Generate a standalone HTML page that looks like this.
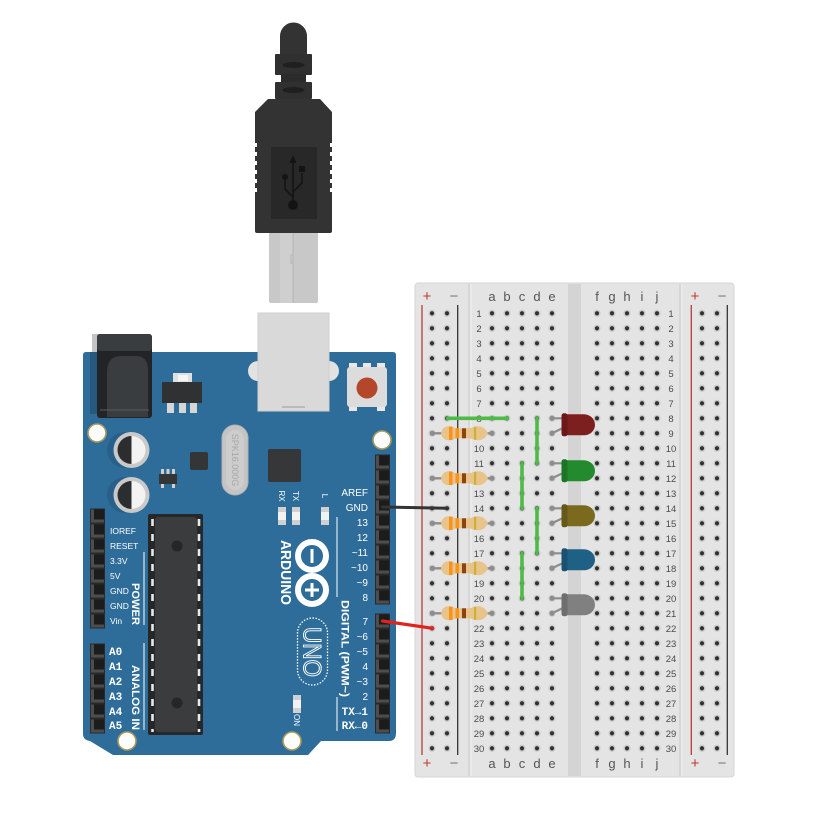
<!DOCTYPE html>
<html><head><meta charset="utf-8"><style>
html,body{margin:0;padding:0;background:#fff;}
svg{display:block}
text{font-family:"Liberation Sans",sans-serif}
</style></head><body>
<svg width="818" height="838" viewBox="0 0 818 838" xmlns="http://www.w3.org/2000/svg">
<defs>
 <pattern id="holes" x="484.5" y="305.8" width="15" height="15" patternUnits="userSpaceOnUse">
  <circle cx="7.5" cy="7.5" r="3.5" fill="#c9c9c9"/>
  <circle cx="7.5" cy="7.5" r="2.1" fill="#303030"/>
 </pattern>
 <g id="pin"><rect x="-6.5" y="-6.5" width="13" height="13" fill="#4d4d4d"/><rect x="-3.5" y="-6.5" width="10" height="10" fill="#1c1c1c"/></g>
 <g id="res">
  <line x1="432.5" y1="0" x2="492" y2="0" stroke="#8d8d8d" stroke-width="2.4" stroke-linecap="round"/>
  <circle cx="432.5" cy="0" r="2.6" fill="#8d8d8d"/>
  <circle cx="492" cy="0" r="2.6" fill="#8d8d8d"/>
  <path d="M441,0 C442,-5 445,-7 449,-7 C453,-7 454,-5 457,-5 L469,-5 C472,-5 473,-7 478,-7 C483,-7 486,-4 488,0 C486,4 483,7 478,7 C473,7 472,5 469,5 L457,5 C454,5 453,7 449,7 C445,7 442,5 441,0 Z" fill="#e8c38a"/>
  <rect x="449" y="-6.8" width="3.5" height="13.6" fill="#f7921c"/>
  <rect x="455.5" y="-5" width="3.5" height="10" fill="#f7921c"/>
  <rect x="462" y="-5" width="4" height="10" fill="#8a4410"/>
  <rect x="474" y="-6.5" width="2.2" height="13" fill="#c9b23a"/>
 </g>
</defs>

<!-- ================= BREADBOARD ================= -->
<rect x="415" y="283" width="319" height="494" rx="3" fill="#e4e4e4" stroke="#d6d6d6" stroke-width="1"/>
<rect x="568" y="284" width="13" height="492" fill="#d4d4d4"/>
<line x1="469" y1="284" x2="469" y2="776" stroke="#d2d2d2" stroke-width="1.5"/>
<line x1="680" y1="284" x2="680" y2="776" stroke="#d2d2d2" stroke-width="1.5"/>
<line x1="471" y1="284" x2="471" y2="776" stroke="#efefef" stroke-width="1"/>
<line x1="682" y1="284" x2="682" y2="776" stroke="#efefef" stroke-width="1"/>

<!-- rail lines -->
<line x1="422" y1="305" x2="422" y2="755" stroke="#b83a3a" stroke-width="1.3"/>
<line x1="457.7" y1="305" x2="457.7" y2="755" stroke="#333" stroke-width="1.3"/>
<line x1="691.3" y1="305" x2="691.3" y2="755" stroke="#b83a3a" stroke-width="1.3"/>
<line x1="727.3" y1="305" x2="727.3" y2="755" stroke="#333" stroke-width="1.3"/>

<!-- holes -->
<rect x="424.5" y="305.8" width="30" height="450" fill="url(#holes)"/>
<rect x="484.5" y="305.8" width="75" height="450" fill="url(#holes)"/>
<rect x="589.5" y="305.8" width="75" height="450" fill="url(#holes)"/>
<rect x="694.5" y="305.8" width="30" height="450" fill="url(#holes)"/>

<!-- rail signs -->
<g font-size="15" text-anchor="middle">
 <text x="427" y="301" fill="#c0392b">+</text>
 <text x="454" y="301" fill="#777">−</text>
 <text x="695" y="301" fill="#c0392b">+</text>
 <text x="722" y="301" fill="#777">−</text>
 <text x="427" y="768" fill="#c0392b">+</text>
 <text x="454" y="768" fill="#777">−</text>
 <text x="695" y="768" fill="#c0392b">+</text>
 <text x="722" y="768" fill="#777">−</text>
</g>
<!-- column letters -->
<g font-size="13" fill="#555" text-anchor="middle">
 <text x="492" y="301">a</text><text x="507" y="301">b</text><text x="522" y="301">c</text><text x="537" y="301">d</text><text x="552" y="301">e</text>
 <text x="597" y="301">f</text><text x="612" y="301">g</text><text x="627" y="301">h</text><text x="642" y="301">i</text><text x="657" y="301">j</text>
 <text x="492" y="768">a</text><text x="507" y="768">b</text><text x="522" y="768">c</text><text x="537" y="768">d</text><text x="552" y="768">e</text>
 <text x="597" y="768">f</text><text x="612" y="768">g</text><text x="627" y="768">h</text><text x="642" y="768">i</text><text x="657" y="768">j</text>
</g>
<!-- row numbers -->
<g font-size="9.5" fill="#4a4a4a" text-anchor="middle">
<text x="479" y="316.8">1</text><text x="671" y="316.8">1</text>
<text x="479" y="331.8">2</text><text x="671" y="331.8">2</text>
<text x="479" y="346.8">3</text><text x="671" y="346.8">3</text>
<text x="479" y="361.8">4</text><text x="671" y="361.8">4</text>
<text x="479" y="376.8">5</text><text x="671" y="376.8">5</text>
<text x="479" y="391.8">6</text><text x="671" y="391.8">6</text>
<text x="479" y="406.8">7</text><text x="671" y="406.8">7</text>
<text x="479" y="421.8">8</text><text x="671" y="421.8">8</text>
<text x="479" y="436.8">9</text><text x="671" y="436.8">9</text>
<text x="479" y="451.8">10</text><text x="671" y="451.8">10</text>
<text x="479" y="466.8">11</text><text x="671" y="466.8">11</text>
<text x="479" y="481.8">12</text><text x="671" y="481.8">12</text>
<text x="479" y="496.8">13</text><text x="671" y="496.8">13</text>
<text x="479" y="511.8">14</text><text x="671" y="511.8">14</text>
<text x="479" y="526.8">15</text><text x="671" y="526.8">15</text>
<text x="479" y="541.8">16</text><text x="671" y="541.8">16</text>
<text x="479" y="556.8">17</text><text x="671" y="556.8">17</text>
<text x="479" y="571.8">18</text><text x="671" y="571.8">18</text>
<text x="479" y="586.8">19</text><text x="671" y="586.8">19</text>
<text x="479" y="601.8">20</text><text x="671" y="601.8">20</text>
<text x="479" y="616.8">21</text><text x="671" y="616.8">21</text>
<text x="479" y="631.8">22</text><text x="671" y="631.8">22</text>
<text x="479" y="646.8">23</text><text x="671" y="646.8">23</text>
<text x="479" y="661.8">24</text><text x="671" y="661.8">24</text>
<text x="479" y="676.8">25</text><text x="671" y="676.8">25</text>
<text x="479" y="691.8">26</text><text x="671" y="691.8">26</text>
<text x="479" y="706.8">27</text><text x="671" y="706.8">27</text>
<text x="479" y="721.8">28</text><text x="671" y="721.8">28</text>
<text x="479" y="736.8">29</text><text x="671" y="736.8">29</text>
<text x="479" y="751.8">30</text><text x="671" y="751.8">30</text>
</g>

<!-- ================= ARDUINO ================= -->
<!-- jack shadow grey -->
<rect x="92" y="334" width="8" height="20" fill="#c4c4c4"/>
<path d="M86,352 H393 Q396,352 396,355 V733 Q396,741 389,741 H321 L308,755 H113 L90,741 Q83,740 83,734 V355 Q83,352 86,352 Z" fill="#2e6c9a"/>
<rect x="90" y="352" width="10" height="62" fill="#27587e"/>
<!-- power jack -->
<rect x="97" y="334" width="55" height="84" rx="3" fill="#232425"/>
<rect x="97" y="334" width="55" height="17" rx="3" fill="#3a3d40"/>
<path d="M107,372 Q107,356 122,356 H136 Q148,356 148,370 V417 H107 Z" fill="#3a3d40"/>
<line x1="100" y1="410" x2="149" y2="410" stroke="#5a5d60" stroke-width="1"/>

<!-- regulator -->
<rect x="173" y="373" width="19" height="10" fill="#e0e0e0"/>
<rect x="178" y="375" width="10" height="6" fill="#f5f5f5"/>
<rect x="162" y="382" width="40" height="21" fill="#2f3133"/>
<rect x="167" y="403" width="7" height="10" fill="#d6d6d6"/>
<rect x="179" y="403" width="7" height="10" fill="#d6d6d6"/>
<rect x="190" y="403" width="7" height="10" fill="#d6d6d6"/>

<!-- USB port on board -->
<circle cx="258" cy="371" r="10" fill="#e2e2e2"/>
<circle cx="329" cy="371" r="10" fill="#e2e2e2"/>
<rect x="258" y="313" width="71" height="98" fill="#d9d9d9"/>
<rect x="258" y="313" width="71" height="98" fill="none" stroke="#cfcfcf" stroke-width="1"/>
<line x1="282" y1="407" x2="305" y2="407" stroke="#a9a9a9" stroke-width="1.2"/>

<!-- reset button -->
<rect x="349" y="363" width="8" height="6" fill="#e8e8e8"/><rect x="363" y="363" width="8" height="6" fill="#e8e8e8"/><rect x="377" y="363" width="8" height="6" fill="#e8e8e8"/>
<rect x="349" y="405" width="8" height="6" fill="#e8e8e8"/><rect x="377" y="405" width="8" height="6" fill="#e8e8e8"/>
<rect x="347" y="367" width="40" height="40" rx="3" fill="#dcdcdc"/>
<circle cx="367" cy="388" r="10.5" fill="#b4462b"/>

<!-- mounting holes -->
<g fill="#fdfdfd" stroke="#a99a5c" stroke-width="1.6">
 <circle cx="97" cy="433" r="9"/>
 <circle cx="382" cy="440" r="9"/>
 <circle cx="127" cy="741" r="9"/>
 <circle cx="292" cy="741" r="9"/>
</g>

<!-- capacitors -->
<circle cx="125" cy="450" r="18" fill="#28608a"/>
<circle cx="125" cy="495" r="18" fill="#28608a"/>
<circle cx="131.5" cy="450" r="18" fill="#c9c9c9"/>
<circle cx="131.5" cy="495" r="18" fill="#c9c9c9"/>
<path d="M131.5,436 A14,14 0 0 0 131.5,464 Z" fill="#2c2d2e"/>
<path d="M131.5,436 A14,14 0 0 1 131.5,464 Z" fill="#f3f3f3"/>
<path d="M131.5,481 A14,14 0 0 0 131.5,509 Z" fill="#2c2d2e"/>
<path d="M131.5,481 A14,14 0 0 1 131.5,509 Z" fill="#f3f3f3"/>

<!-- small chips -->
<rect x="190" y="452" width="18" height="18" rx="2" fill="#333537"/>
<rect x="161" y="469" width="3" height="5" fill="#cfcfcf"/><rect x="166.5" y="469" width="3" height="5" fill="#cfcfcf"/><rect x="172" y="469" width="3" height="5" fill="#cfcfcf"/>
<rect x="159" y="474" width="18" height="10" fill="#333537"/>
<rect x="161" y="484" width="3" height="4" fill="#cfcfcf"/><rect x="172" y="484" width="3" height="4" fill="#cfcfcf"/>
<rect x="268" y="449" width="33" height="33" rx="2" fill="#353739"/>

<!-- crystal -->
<rect x="222" y="425" width="26" height="70" rx="13" fill="#c4c4c4" stroke="#b2b2b2" stroke-width="1"/>
<rect x="226" y="430" width="18" height="60" rx="9" fill="#cdcdcd"/>
<text transform="translate(235,460) rotate(90)" font-size="9" fill="#a7a7a7" text-anchor="middle" dy="3">SPK16.000G</text>

<!-- RX TX L -->
<g font-size="8" fill="#fff" text-anchor="middle">
 <text transform="translate(282,496) rotate(90)" dy="3">RX</text>
 <text transform="translate(296,496) rotate(90)" dy="3">TX</text>
 <text transform="translate(325,496) rotate(90)" dy="3">L</text>
</g>
<g>
 <rect x="278" y="507" width="8" height="18" fill="#d0d0d0"/><rect x="278" y="512" width="8" height="8" fill="#f2f2f2"/>
 <rect x="292" y="507" width="8" height="18" fill="#d0d0d0"/><rect x="292" y="512" width="8" height="8" fill="#f2f2f2"/>
 <rect x="321" y="507" width="8" height="18" fill="#d0d0d0"/><rect x="321" y="512" width="8" height="8" fill="#f2f2f2"/>
</g>

<!-- ATmega -->
<rect x="148" y="514" width="55" height="221" rx="2" fill="#262728"/>
<rect x="155" y="517" width="42" height="215" rx="3" fill="#3a3c3e"/>
<line x1="152.5" y1="519" x2="152.5" y2="732" stroke="#e9e9e9" stroke-width="2.6" stroke-dasharray="7 8"/>
<line x1="199" y1="519" x2="199" y2="732" stroke="#e9e9e9" stroke-width="2.6" stroke-dasharray="7 8"/>
<circle cx="177" cy="546" r="5.5" fill="#252627"/>
<circle cx="177" cy="703" r="5.5" fill="#252627"/>

<!-- logo -->
<text transform="translate(286,572.5) rotate(90)" font-size="15" font-weight="bold" fill="#fff" text-anchor="middle" dy="5" textLength="65" lengthAdjust="spacingAndGlyphs">ARDUINO</text>
<circle cx="312" cy="556" r="14" fill="none" stroke="#fff" stroke-width="6"/>
<circle cx="312" cy="590" r="14" fill="none" stroke="#fff" stroke-width="6"/>
<rect x="310.5" y="549" width="3" height="14" fill="#fff"/>
<rect x="310.5" y="583" width="3" height="14" fill="#fff"/>
<rect x="305" y="588.5" width="14" height="3" fill="#fff"/>
<rect x="297.5" y="618" width="30" height="67" rx="15" fill="none" stroke="#fff" stroke-width="1.3" stroke-dasharray="1.5 1.5"/>
<text transform="translate(312.5,652) rotate(90)" font-size="25" fill="none" stroke="#fff" stroke-width="1" text-anchor="middle" dy="9" textLength="50" lengthAdjust="spacingAndGlyphs">UNO</text>

<!-- ON led -->
<rect x="293" y="695" width="8" height="18" fill="#d0d0d0"/><rect x="293" y="700" width="8" height="8" fill="#f2f2f2"/>
<text transform="translate(297,720) rotate(90)" font-size="8" fill="#fff" text-anchor="middle" dy="3">ON</text>

<!-- bracket lines -->
<g stroke="#fff" stroke-width="1">
 <line x1="144" y1="552" x2="144" y2="625"/>
 <line x1="144" y1="643" x2="144" y2="730"/>
 <line x1="337" y1="517" x2="337" y2="597"/>
 <line x1="337" y1="697" x2="337" y2="731"/>
</g>
<g font-weight="bold" font-size="11" fill="#fff" text-anchor="middle">
 <text transform="translate(136,604) rotate(90)" dy="4" textLength="42" lengthAdjust="spacingAndGlyphs">POWER</text>
 <text transform="translate(136,697.5) rotate(90)" dy="4" textLength="65" lengthAdjust="spacingAndGlyphs">ANALOG IN</text>
 <text transform="translate(345.5,648.5) rotate(90)" dy="4" textLength="97" lengthAdjust="spacingAndGlyphs">DIGITAL (PWM~)</text>
</g>

<!-- left labels -->
<g font-size="8.5" fill="#fff">
 <text x="110" y="534">IOREF</text>
 <text x="110" y="549">RESET</text>
 <text x="110" y="564">3.3V</text>
 <text x="110" y="579">5V</text>
 <text x="110" y="594">GND</text>
 <text x="110" y="609">GND</text>
 <text x="110" y="624">Vin</text>
</g>
<g font-family="Liberation Mono" font-weight="bold" font-size="11" fill="#fff">
 <text x="109" y="655" style="font-family:'Liberation Mono',monospace">A0</text>
 <text x="109" y="670" style="font-family:'Liberation Mono',monospace">A1</text>
 <text x="109" y="685" style="font-family:'Liberation Mono',monospace">A2</text>
 <text x="109" y="700" style="font-family:'Liberation Mono',monospace">A3</text>
 <text x="109" y="715" style="font-family:'Liberation Mono',monospace">A4</text>
 <text x="109" y="729" style="font-family:'Liberation Mono',monospace">A5</text>
</g>
<!-- digital labels -->
<g font-size="10" fill="#fff" text-anchor="end">
 <text x="368" y="496">AREF</text>
 <text x="368" y="511">GND</text>
 <text x="368" y="526">13</text>
 <text x="368" y="541">12</text>
 <text x="368" y="556">~11</text>
 <text x="368" y="571">~10</text>
 <text x="368" y="586">~9</text>
 <text x="368" y="601">8</text>
 <text x="368" y="625">7</text>
 <text x="368" y="640">~6</text>
 <text x="368" y="655">~5</text>
 <text x="368" y="670">4</text>
 <text x="368" y="685">~3</text>
 <text x="368" y="700">2</text>
</g>
<g font-weight="bold" font-size="11" fill="#fff" text-anchor="end">
 <text x="368" y="715" style="font-family:'Liberation Mono',monospace">TX→1</text>
 <text x="368" y="729" style="font-family:'Liberation Mono',monospace">RX←0</text>
</g>

<!-- headers -->
<rect x="375" y="454.5" width="15" height="150" fill="#2a2a2a"/>
<rect x="375" y="613.5" width="15" height="120" fill="#2a2a2a"/>
<rect x="90" y="508.5" width="15" height="120" fill="#2a2a2a"/>
<rect x="90" y="643.5" width="15" height="90" fill="#2a2a2a"/>
<g>
 <use href="#pin" x="382.5" y="462"/><use href="#pin" x="382.5" y="477"/><use href="#pin" x="382.5" y="492"/><use href="#pin" x="382.5" y="507"/><use href="#pin" x="382.5" y="522"/>
 <use href="#pin" x="382.5" y="537"/><use href="#pin" x="382.5" y="552"/><use href="#pin" x="382.5" y="567"/><use href="#pin" x="382.5" y="582"/><use href="#pin" x="382.5" y="597"/>
 <use href="#pin" x="382.5" y="621"/><use href="#pin" x="382.5" y="636"/><use href="#pin" x="382.5" y="651"/><use href="#pin" x="382.5" y="666"/>
 <use href="#pin" x="382.5" y="681"/><use href="#pin" x="382.5" y="696"/><use href="#pin" x="382.5" y="711"/><use href="#pin" x="382.5" y="726"/>
 <use href="#pin" x="97.5" y="516"/><use href="#pin" x="97.5" y="531"/><use href="#pin" x="97.5" y="546"/><use href="#pin" x="97.5" y="561"/>
 <use href="#pin" x="97.5" y="576"/><use href="#pin" x="97.5" y="591"/><use href="#pin" x="97.5" y="606"/><use href="#pin" x="97.5" y="621"/>
 <use href="#pin" x="97.5" y="651"/><use href="#pin" x="97.5" y="666"/><use href="#pin" x="97.5" y="681"/><use href="#pin" x="97.5" y="696"/>
 <use href="#pin" x="97.5" y="711"/><use href="#pin" x="97.5" y="726"/>
</g>

<!-- ================= USB CABLE ================= -->
<path d="M280,54 V36 A13.5,13.5 0 0 1 307,36 V54 Z" fill="#333"/>
<rect x="275" y="54" width="37" height="21" rx="1" fill="#303030"/>
<ellipse cx="293.5" cy="65" rx="11" ry="3" fill="#1f1f1f"/>
<rect x="281" y="74" width="25" height="9" fill="#2b2b2b"/>
<rect x="275" y="82" width="37" height="17" rx="1" fill="#303030"/>
<ellipse cx="293.5" cy="90" rx="11" ry="3" fill="#1f1f1f"/>
<path d="M268,99 H320 L332,112 V231 Q332,233 330,233 H257 Q255,233 255,231 V112 Z" fill="#333"/>
<g fill="#fff">
 <rect x="254" y="143" width="3" height="4"/><rect x="254" y="152" width="3" height="4"/><rect x="254" y="161" width="3" height="4"/>
 <rect x="254" y="170" width="3" height="4"/><rect x="254" y="179" width="3" height="4"/><rect x="254" y="188" width="3" height="4"/>
 <rect x="330" y="143" width="3" height="4"/><rect x="330" y="152" width="3" height="4"/><rect x="330" y="161" width="3" height="4"/>
 <rect x="330" y="170" width="3" height="4"/><rect x="330" y="179" width="3" height="4"/><rect x="330" y="188" width="3" height="4"/>
</g>
<rect x="271" y="147" width="46" height="72" fill="#282828"/>
<g stroke="#141414" stroke-width="1.6" fill="none">
 <line x1="293" y1="160" x2="293" y2="204"/>
 <path d="M293,197 L285,189 V178"/>
 <path d="M293,192 L302,183 V173"/>
</g>
<path d="M293,155 L289.5,163 H296.5 Z" fill="#141414"/>
<circle cx="293" cy="205" r="5" fill="#141414"/>
<circle cx="285" cy="177" r="3" fill="#141414"/>
<rect x="299" y="166" width="6" height="6" fill="#141414"/>
<!-- metal -->
<path d="M269,233 H318 V301 Q318,303 316,303 H271 Q269,303 269,301 Z" fill="#c8c8c8"/>
<rect x="280" y="233" width="13" height="70" fill="#cfcfcf"/>
<line x1="293" y1="233" x2="293" y2="303" stroke="#b5b5b5" stroke-width="1"/>
<path d="M293,255 h-2 v8 h2" fill="none" stroke="#b5b5b5" stroke-width="1"/>

<!-- ================= WIRES ================= -->
<line x1="382.5" y1="507" x2="447.7" y2="508.3" stroke="#333" stroke-width="3" stroke-linecap="round"/>
<line x1="382.5" y1="621" x2="432.7" y2="628.3" stroke="#e2231d" stroke-width="3.2" stroke-linecap="round"/>
<g stroke="#4dbb46" stroke-width="3.6" stroke-linecap="round" fill="none">
 <line x1="447.5" y1="418.3" x2="507.3" y2="418.3"/>
 <line x1="537" y1="418.3" x2="537" y2="463.3"/>
 <line x1="522" y1="463.3" x2="522" y2="508.3"/>
 <line x1="537" y1="508.3" x2="537" y2="553.3"/>
 <line x1="522" y1="553.3" x2="522" y2="598.3"/>
</g>

<!-- ================= RESISTORS ================= -->
<use href="#res" transform="translate(0,433.3)"/>
<use href="#res" transform="translate(0,478.3)"/>
<use href="#res" transform="translate(0,523.3)"/>
<use href="#res" transform="translate(0,568.3)"/>
<use href="#res" transform="translate(0,613.3)"/>

<!-- ================= LEDS ================= -->
<g stroke="#8d8d8d" stroke-width="2.2" stroke-linecap="round" fill="none">
 <line x1="552" y1="418.3" x2="564" y2="418.3"/><line x1="552" y1="433.3" x2="563" y2="428"/>
 <line x1="552" y1="463.3" x2="564" y2="463.3"/><line x1="552" y1="478.3" x2="563" y2="473"/>
 <line x1="552" y1="508.3" x2="564" y2="508.3"/><line x1="552" y1="523.3" x2="563" y2="518"/>
 <line x1="552" y1="553.3" x2="564" y2="553.3"/><line x1="552" y1="568.3" x2="563" y2="563"/>
 <line x1="552" y1="598.3" x2="564" y2="598.3"/><line x1="552" y1="613.3" x2="563" y2="608"/>
</g>
<g fill="#8d8d8d">
 <circle cx="552" cy="418.3" r="2.5"/><circle cx="552" cy="433.3" r="2.5"/>
 <circle cx="552" cy="463.3" r="2.5"/><circle cx="552" cy="478.3" r="2.5"/>
 <circle cx="552" cy="508.3" r="2.5"/><circle cx="552" cy="523.3" r="2.5"/>
 <circle cx="552" cy="553.3" r="2.5"/><circle cx="552" cy="568.3" r="2.5"/>
 <circle cx="552" cy="598.3" r="2.5"/><circle cx="552" cy="613.3" r="2.5"/>
</g>
<!-- red -->
<path d="M565,414.3 H584 A11,10.5 0 0 1 584,435.3 H565 Z" fill="#7e1f1f"/>
<rect x="561.5" y="413.3" width="6" height="23" rx="2.5" fill="#6b1818"/>
<!-- green -->
<path d="M565,460.3 H584 A11,10.5 0 0 1 584,481.3 H565 Z" fill="#238a2d"/>
<rect x="561.5" y="459.3" width="6" height="23" rx="2.5" fill="#1c7426"/>
<!-- olive -->
<path d="M565,505.3 H584 A11,10.5 0 0 1 584,526.3 H565 Z" fill="#7b6a1e"/>
<rect x="561.5" y="504.3" width="6" height="23" rx="2.5" fill="#665819"/>
<!-- blue -->
<path d="M565,549.3 H584 A11,10.5 0 0 1 584,570.3 H565 Z" fill="#1f6185"/>
<rect x="561.5" y="548.3" width="6" height="23" rx="2.5" fill="#1a5170"/>
<!-- grey -->
<path d="M565,594.3 H584 A11,10.5 0 0 1 584,615.3 H565 Z" fill="#808080"/>
<rect x="561.5" y="593.3" width="6" height="23" rx="2.5" fill="#6e6e6e"/>
</svg>
</body></html>
